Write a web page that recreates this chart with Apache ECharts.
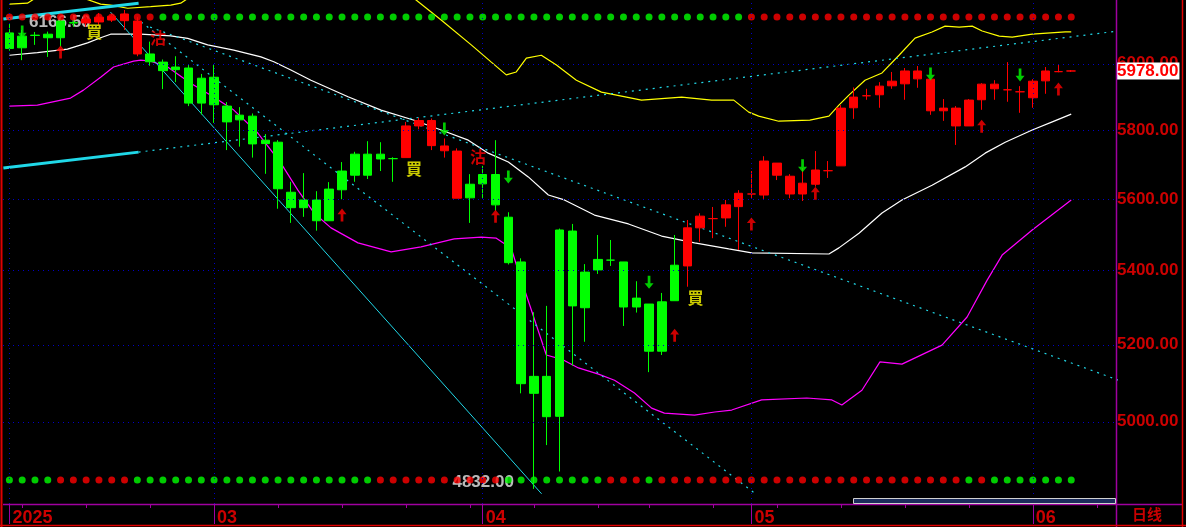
<!DOCTYPE html>
<html><head><meta charset="utf-8">
<script src="https://cdn.jsdelivr.net/npm/echarts@6/dist/echarts.min.js"></script>
<style>html,body{margin:0;padding:0;background:#000;}#c{width:1186px;height:527px;}</style>
</head><body><div id="c"></div>
<script>
// ---------- DATA ----------
const categories = [
 '2025-02-07','2025-02-10','2025-02-11','2025-02-12','2025-02-13','2025-02-14',
 '2025-02-17','2025-02-18','2025-02-19','2025-02-20','2025-02-21',
 '2025-02-24','2025-02-25','2025-02-26','2025-02-27','2025-02-28',
 '2025-03-03','2025-03-04','2025-03-05','2025-03-06','2025-03-07',
 '2025-03-10','2025-03-11','2025-03-12','2025-03-13','2025-03-14',
 '2025-03-17','2025-03-18','2025-03-19','2025-03-20','2025-03-21',
 '2025-03-24','2025-03-25','2025-03-26','2025-03-27','2025-03-28','2025-03-31',
 '2025-04-01','2025-04-02','2025-04-03','2025-04-04',
 '2025-04-07','2025-04-08','2025-04-09','2025-04-10','2025-04-11',
 '2025-04-14','2025-04-15','2025-04-16','2025-04-17',
 '2025-04-21','2025-04-22','2025-04-23','2025-04-24','2025-04-25',
 '2025-04-28','2025-04-29','2025-04-30',
 '2025-05-01','2025-05-02',
 '2025-05-05','2025-05-06','2025-05-07','2025-05-08','2025-05-09',
 '2025-05-12','2025-05-13','2025-05-14','2025-05-15','2025-05-16',
 '2025-05-19','2025-05-20','2025-05-21','2025-05-22','2025-05-23',
 '2025-05-26','2025-05-27','2025-05-28','2025-05-29','2025-05-30',
 '2025-06-02','2025-06-03','2025-06-04','2025-06-05','2025-06-06',
 '2025-06-09','2025-06-10'
];
// [open, close, low, high]
const ohlc = [
 [6095,6047,6040,6123],[6085,6049,6011,6104],[6088,6087,6058,6098],[6091,6080,6021,6099],
 [6132,6080,6052,6140],[6127,6126,6114,6140],[6138,6126,6114,6150],[6129,6144,6120,6157],
 [6135,6147,6129,6154],[6133,6154,6104,6166.5],[6030,6132,6023,6144],[6030,6006,5994,6068],
 [6005,5979,5923,6013],[5990,5982,5944,6023],[5987,5881,5872,5996],[5956,5881,5847,5969],
 [5959,5876,5822,5999],[5872,5825,5742,5884],[5845,5831,5752,5869],[5842,5760,5720,5850],
 [5771,5761,5673,5789],[5765,5630,5573,5771],[5620,5576,5533,5650],[5598,5576,5550,5675],
 [5598,5539,5511,5623],[5539,5629,5539,5649],[5627,5681,5600,5707],[5669,5730,5650,5737],
 [5669,5730,5658,5768],[5716,5730,5681,5765],[5717,5717,5650,5721],[5720,5813,5720,5825],
 [5813,5829,5803,5837],[5829,5755,5742,5835],[5754,5740,5720,5776],[5739,5603,5603,5747],
 [5604,5643,5533,5672],[5644,5671,5602,5696],[5671,5584,5567,5771],[5549,5422,5417,5563],
 [5424,5098,5073,5434],[5117,5073,4832,5287],[5117,5013,4941,5304],[5014,5513,4875,5517],
 [5510,5304,5145,5530],[5299,5396,5208,5418],[5402,5431,5391,5499],[5429,5429,5413,5485],
 [5424,5301,5250,5424],[5301,5325,5286,5371],[5309,5183,5128,5309],[5183,5315,5173,5339],
 [5318,5415,5318,5499],[5413,5519,5356,5541],[5519,5552,5480,5560],[5545,5545,5490,5578],
 [5547,5584,5522,5598],[5579,5617,5457,5626],[5615,5615,5601,5681],[5612,5710,5601,5724],
 [5704,5669,5655,5704],[5615,5666,5603,5672],[5615,5646,5595,5690],[5643,5684,5636,5739],
 [5682,5682,5661,5710],[5696,5866,5696,5875],[5867,5899,5834,5928],[5903,5903,5891,5924],
 [5906,5932,5867,5944],[5933,5947,5924,5975],[5939,5978,5891,5987],[5954,5978,5927,5993],
 [5953,5858,5846,5953],[5858,5866,5828,5893],[5813,5866,5757,5872],[5813,5890,5813,5893],
 [5891,5938,5861,5941],[5924,5938,5891,5950],[5921,5921,5885,6005],[5915,5915,5852,5932],
 [5897,5947,5867,5953],[5948,5978,5909,5990],[5976,5976,5974,5999],[5978,5978,5975,5981]
];
// candle colour state (r = red, g = green)
const candleState = ('gggggg'+'rrrrr'+'gggggggggggggggggggg'+'rrrrr'+'ggggggggggggggggg'+'rrrrrrrrrrrrrrrrrrrrrrrrrrrrrrr').split('');
// dot rows (trend state)
const topDotState = ('rrrrrrrrrrrr'+'gggggggggggggggggggggggggggggggggggggggggggggg'+'rrrrrrrrrrrrrrrrrrrrrrrrrr').split('');
const bottomDotState = ('gggg'+'rrrrrr'+'ggggggggggggggggggg'+'rrrrrrrrrr'+'gggggggg'+'rrr'+'g'+'rrrrrrrrrrrrrrrrrrrrrrrr'+'g'+'r'+'ggggggg').split('');
// band lines [index, price]
const whiteLine = [[0,6026],[2.19,6034],[4.54,6045],[6.11,6064],[7.13,6080],[7.91,6091],[10.26,6091],[12.61,6086],[13.94,6078],[15.5,6058],[17.54,6042],[19.66,6021],[20.67,6006],[22,5981],[23.57,5950],[26.47,5900],[29.05,5860],[31.64,5830],[33.75,5801],[35.87,5771],[37.43,5733],[39,5707],[40.56,5664],[42.13,5612],[43.38,5598],[45.73,5555],[48.39,5530],[50.98,5496],[53.56,5477],[56.23,5460],[58.03,5449],[64.06,5446],[64.84,5463],[66.41,5504],[68.21,5561],[69.77,5598],[72.12,5640],[74.71,5693],[76.27,5733],[77.84,5765],[79.95,5801],[81.52,5825],[83,5848]];
const magentaLine = [[0,5872],[2.19,5875],[4.78,5896],[5.79,5920],[7.13,5959],[8.14,5990],[9.71,6008],[10.26,6011],[11.04,6008],[12.37,5990],[14.17,5941],[15.97,5899],[17.54,5860],[19.42,5792],[21.22,5704],[22.55,5626],[23.81,5561],[25.14,5519],[27.25,5477],[29.84,5452],[32.18,5466],[34.77,5488],[36.88,5493],[38.06,5490],[39.23,5462],[39.78,5399],[40.8,5293],[41.97,5173],[43.3,5160],[44.48,5139],[46.05,5123],[47.3,5107],[48.86,5074],[50.2,5035],[51.2,5022],[53.56,5017],[55.13,5025],[56.46,5030],[58.8,5056],[62.33,5061],[64.29,5056],[65.07,5043],[66.64,5081],[68.05,5155],[69.77,5149],[72.9,5199],[74.86,5274],[76.43,5374],[77.6,5443],[79.95,5513],[83,5598]];
const yellowLine = [[0,6185],[1.41,6188],[2.43,6214],[5.56,6207],[7.13,6185],[7.91,6182],[9.24,6172],[11.04,6177],[12.61,6182],[13.39,6188],[14.96,6230],[22.79,6326],[30.62,6230],[31.79,6198],[33.75,6135],[36.1,6058],[37.67,6005],[38.84,5966],[39.62,5975],[40.41,6017],[41.58,6026],[42.76,5996],[44.32,5950],[46.28,5914],[49.41,5890],[52.55,5899],[54.89,5890],[56.62,5890],[57.79,5854],[58.57,5842],[60.14,5827],[62.57,5830],[64.06,5842],[64.84,5875],[65.62,5905],[66.88,5950],[68.21,5972],[69.54,6026],[70.79,6079],[72.12,6098],[73.14,6116],[74.24,6113],[75.26,6116],[76.04,6101],[77.37,6085],[78.39,6082],[79.95,6091],[82.54,6098],[83,6098]];
// trend lines [index, price]
const trendThickTop = [[-0.47,6138],[10.1,6188]];
const trendThickLow = [[-0.47,5690],[10.1,5736]];
const trendDottedLong = [[10.1,5736],[86.7,6101]];
const trendSolidDown = [[7.9,6160],[41.6,4820]];
const trendDottedSteep = [[10.3,6129],[58.4,4818]];
const trendDottedShallow = [[11.0,6113],[86.7,5107]];
// signals
const upArrows = [[4,6036],[26,5555],[38,5552],[52,5225],[58,5530],[63,5617],[76,5812],[82,5923]];
const downArrows = [[1,6098],[34,5804],[39,5664],[50,5368],[62,5696],[72,5969],[79,5966]];
const signalIdx = [6,11,31,36,53];
const signalText = ['買','沽','買','沽','買'];
const signalLevel = [6098,6079,5687,5722,5325];
const yTickValues = [5000,5200,5400,5600,5800,6000];
const lastPrice = 5978;
const periodLabel = '日线';

// ---------- CHART ----------
const RED='#ff0000', GREEN='#00ff00', PURPLE='#a000a0', AXRED='#cc0000', GRIDBLUE='#0000c8', CYAN='#20d8e8';
const N = categories.length;
const isWeek = categories.map(d => new Date(d+'T00:00:00Z').getUTCDay() === 1);
const isMonth = categories.map((d,i) => i===0 || d.slice(5,7)!==categories[i-1].slice(5,7));
const candleItems = ohlc.map((v,i)=>{const c=candleState[i]==='r'?RED:GREEN;return {value:v,itemStyle:{color:c,color0:c,borderColor:c,borderColor0:c,borderColorDoji:c}};});
const dotItems = (st, lvl) => st.map((s,i)=>({value:[i,lvl],itemStyle:{color:s==='r'?RED:GREEN}}));
let hiI=0, loI=0;
ohlc.forEach((v,i)=>{ if(v[3]>ohlc[hiI][3]) hiI=i; if(v[2]<ohlc[loI][2]) loI=i; });
const lblFont = {fontFamily:'Liberation Sans', fontWeight:'bold'};
const lineS = (data, color, width, type) => ({type:'line', xAxisIndex:2, yAxisIndex:0, data, showSymbol:false, symbol:'none', silent:true, z:2,
  lineStyle:{color, width, type: type||'solid'}, clip:true});
const upPath='path://M5,0 L10,6 L6.5,6 L6.5,14 L3.5,14 L3.5,6 L0,6 Z';
const downPath='path://M3.5,0 L6.5,0 L6.5,8 L10,8 L5,14 L0,8 L3.5,8 Z';

const option = {
 backgroundColor:'#000', animation:false,
 grid:{left:3, right:70, top:0, bottom:23},
 xAxis:[
  {type:'category', data:categories, boundaryGap:true, position:'bottom',
   axisLine:{show:false},
   axisTick:{show:true, alignWithLabel:true, length:4, interval:(i)=>isWeek[i], lineStyle:{color:PURPLE}},
   axisLabel:{show:true, interval:(i)=>isMonth[i], formatter:(v)=>{const i=categories.indexOf(v);return i===0?v.slice(0,4):v.slice(5,7);},
     align:'left', padding:[0,0,0,3], margin:5, color:AXRED, fontSize:18, ...lblFont},
   splitLine:{show:false}},
  {type:'category', data:categories, boundaryGap:true, position:'bottom',
   axisLine:{show:false}, axisLabel:{show:false}, splitLine:{show:false},
   axisTick:{show:true, alignWithLabel:true, length:20, interval:(i)=>isMonth[i], lineStyle:{color:PURPLE}}},
  {type:'value', min:-0.5, max:N-0.5, show:false, position:'bottom'}
 ],
 yAxis:[
  {type:'log', logBase:10, min:4795, max:6198, position:'right', show:true,
   axisLine:{show:false}, axisTick:{show:false}, axisLabel:{show:false}, splitLine:{show:false}},
  {type:'value', min:0, max:100, show:false}
 ],
 graphic:[
  {type:'line', shape:{x1:1.5,y1:0,x2:1.5,y2:527}, style:{stroke:'#e00000', lineWidth:2}, z:10},
  {type:'line', shape:{x1:1116.5,y1:0,x2:1116.5,y2:527}, style:{stroke:PURPLE, lineWidth:1.5}, z:10},
  {type:'line', shape:{x1:3,y1:504.5,x2:1182,y2:504.5}, style:{stroke:PURPLE, lineWidth:1.5}, z:10},
  {type:'line', shape:{x1:1182.5,y1:0,x2:1182.5,y2:527}, style:{stroke:'#e00000', lineWidth:1.5}, z:10},
  {type:'line', shape:{x1:0,y1:525.5,x2:1186,y2:525.5}, style:{stroke:'#e00000', lineWidth:1.5}, z:10},
  {type:'rect', shape:{x:853.5,y:498.5,width:262,height:5}, style:{fill:'#1c2c5c', stroke:'#d0d0d0', lineWidth:1}, z:10},
  {type:'text', x:1132, y:507, style:{text:periodLabel, fill:'#c80000', font:'bold 15px "Noto Sans CJK SC"'}, z:10}
 ],
 series:[
  {type:'line', name:'grid', xAxisIndex:0, yAxisIndex:0, data:[], silent:true, z:1,
   markLine:{silent:true, symbol:['none','none'], animation:false,
    data:[
     ...yTickValues.map(v=>({yAxis:v, lineStyle:{color:GRIDBLUE, type:[1,4], width:1},
       label:{show:true, position:'end', distance:1, formatter:v.toFixed(2), color:AXRED, fontSize:17, ...lblFont}})),
     ...categories.filter((d,i)=>isMonth[i]).map(d=>({xAxis:d, lineStyle:{color:GRIDBLUE, type:[1,4], width:1}, label:{show:false}}))
    ]}},
  {type:'scatter', name:'extremes', xAxisIndex:2, yAxisIndex:0, symbolSize:0, silent:true, z:2,
   data:[
    {value:[hiI, ohlc[hiI][3]], label:{show:true, position:'left', distance:34, offset:[0,12], formatter:ohlc[hiI][3].toFixed(2), color:'#e8e8e8', fontSize:17, ...lblFont}},
    {value:[loI, ohlc[loI][2]], label:{show:true, position:'left', distance:20, offset:[0,-7], formatter:ohlc[loI][2].toFixed(2), color:'#e8e8e8', fontSize:17, ...lblFont}}
   ]},
  lineS(yellowLine, '#ffff00', 1.2),
  lineS(whiteLine, '#ffffff', 1.2),
  lineS(magentaLine, '#ff00ff', 1.2),
  lineS(trendThickTop, CYAN, 3),
  lineS(trendThickLow, CYAN, 3),
  lineS(trendDottedLong, CYAN, 1.2, [2,5]),
  lineS(trendSolidDown, CYAN, 1),
  lineS(trendDottedSteep, CYAN, 1.2, [2,5]),
  lineS(trendDottedShallow, CYAN, 1.2, [2,5]),
  {type:'candlestick', xAxisIndex:0, yAxisIndex:0, data:candleItems, barWidth:9, silent:true, z:3,
   itemStyle:{borderWidth:1}},
  {type:'scatter', xAxisIndex:0, yAxisIndex:1, data:dotItems(topDotState, 96.63), symbolSize:7, silent:true, z:4},
  {type:'scatter', xAxisIndex:0, yAxisIndex:1, data:dotItems(bottomDotState, 4.76), symbolSize:7, silent:true, z:4},
  {type:'scatter', xAxisIndex:2, yAxisIndex:0, data:upArrows, symbol:upPath, symbolSize:[9,13], itemStyle:{color:RED}, silent:true, z:5},
  {type:'scatter', xAxisIndex:2, yAxisIndex:0, data:downArrows, symbol:downPath, symbolSize:[9,13], itemStyle:{color:GREEN}, silent:true, z:5},
  {type:'scatter', xAxisIndex:2, yAxisIndex:0, symbolSize:0, silent:true, z:5,
   data:signalIdx.map((x,k)=>({value:[x, signalLevel[k]], label:{show:true, position:'right', distance:0, formatter:signalText[k],
     color: signalText[k]==='買' ? '#ffff00' : '#ff0000', fontSize:16, fontWeight:'bold', fontFamily:'Noto Sans CJK SC'}}))},
  {type:'line', name:'last', xAxisIndex:0, yAxisIndex:0, data:[], silent:true, z:6,
   markLine:{silent:true, symbol:['none','none'], animation:false,
    data:[{yAxis:lastPrice, lineStyle:{color:'rgba(0,0,0,0)', width:0},
      label:{show:true, opacity:1, position:'end', distance:1, formatter:lastPrice.toFixed(2),
      color:'#ff0000', backgroundColor:'#ffffff', padding:[0,1,0,0], fontSize:17, ...lblFont}}]}}
 ]
};
const chart = echarts.init(document.getElementById('c'));
chart.setOption(option);
</script></body></html>
